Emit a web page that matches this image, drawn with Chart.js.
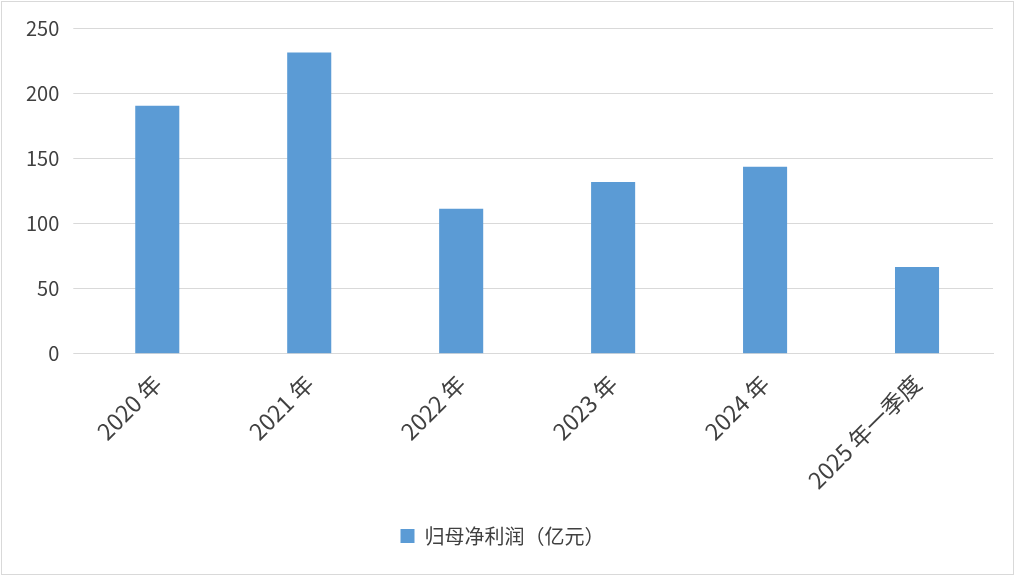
<!DOCTYPE html>
<html>
<head>
<meta charset="utf-8">
<script src="https://cdn.jsdelivr.net/npm/chart.js@4/dist/chart.umd.min.js"></script>
<style>
body{margin:0;background:#fff;}
#wrap{position:absolute;left:1px;top:1px;width:1011px;height:572px;border:1px solid #d9d9d9;}
</style>
</head>
<body>
<div id="wrap"><canvas id="c"></canvas></div>
<script>
var categories = ['2020 年','2021 年','2022 年','2023 年','2024 年','2025 年一季度'];
var profit = [190.4, 231.2, 111.3, 131.7, 143.4, 66.6];
var seriesName = '归母净利润（亿元）';

var ctx = document.getElementById('c').getContext('2d');
var chart = new Chart(ctx, {
    type: 'bar',
    data: {
        labels: categories,
        datasets: [{
            label: seriesName,
            backgroundColor: '#5B9BD5',
            data: profit,
            categoryPercentage: 1,
            barPercentage: 0.29
        }]
    },
    options: {
        responsive: true,
        maintainAspectRatio: false,
        animation: false,
        layout: {padding: {left: 10, right: 20, top: 20, bottom: 18}},
        plugins: {
            tooltip: {enabled: false},
            legend: {
                position: 'bottom',
                labels: {
                    boxWidth: 14, boxHeight: 14, color: '#404040',
                    padding: 24,
                    font: {size: 20, family: 'Noto Sans CJK SC'}
                }
            }
        },
        scales: {
            x: {
                grid: {display: false},
                border: {color: '#d9d9d9'},
                ticks: {
                    color: '#404040', maxRotation: 45, minRotation: 45,
                    padding: 8,
                    font: {size: 23, family: 'Noto Sans CJK SC'}
                }
            },
            y: {
                min: 0, max: 250,
                ticks: {
                    stepSize: 50, color: '#404040', padding: 14,
                    font: {size: 20, family: 'Noto Sans CJK SC'}
                },
                grid: {color: '#d9d9d9'},
                border: {display: false}
            }
        }
    }
});
</script>
</body>
</html>
